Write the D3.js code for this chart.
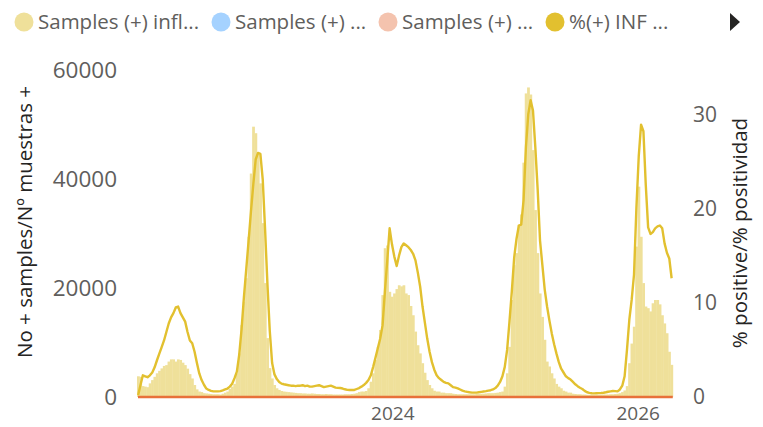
<!DOCTYPE html>
<html><head><meta charset="utf-8">
<script src="https://cdn.jsdelivr.net/npm/d3@7"></script>
<style>
body{margin:0;background:#fff;}
svg{display:block;font-family:"Segoe UI","Open Sans","Noto Sans",sans-serif;}
</style>
</head><body>
<svg id="chart" width="763" height="427"></svg>
<script>
// ---- categories ----
const firstWeek = "2021-12-05";
const weekCount = 228;
const xTickDates = ["2024-01-01", "2026-01-01"];
const leftTicks = [0, 20000, 40000, 60000];
const rightTicks = [0, 10, 20, 30];
const legendLabels = ["Samples (+) infl...", "Samples (+) ...", "Samples (+) ...", "%(+) INF ..."];
const legendColors = ["#EFE09A", "#A5D2FF", "#F4C3AE", "#E2C02F"];
const leftTitle = "No + samples/Nº muestras +";
const rightTitle = "% positive/% positividad";

// ---- series: positive influenza samples per week ----
const samplesInfluenza = [
 3800,3700,2000,1900,1800,2500,3100,3700,4350,4800,
 5250,5700,5850,6500,6900,6900,6500,6900,6800,6300,
 5850,5200,4200,3400,2200,1400,1000,900,700,650,
 600,550,500,500,500,450,600,800,1000,1500,
 1900,2400,4350,8000,13200,17500,21800,29400,41000,49600,
 48400,44700,39200,31900,20900,10800,5300,3400,2200,1600,
 1300,1100,1000,950,900,850,800,750,700,700,
 650,650,600,600,650,600,550,550,500,500,
 550,500,500,450,450,450,450,450,500,500,
 500,550,600,700,900,1000,1000,1100,1600,2800,
 4350,6800,9200,12300,18700,27300,27800,19300,18400,19000,
 19800,20500,20300,20500,19000,18700,16700,15000,12000,9500,
 8000,6200,4450,3100,2200,1600,1150,1000,1000,800,
 800,700,700,700,600,550,500,500,500,500,
 500,500,500,500,550,550,600,600,650,700,
 700,700,750,800,900,1000,1900,4350,9200,17800,
 24200,26400,31600,33500,43000,55700,56800,55500,45300,34300,
 26400,19000,14700,10500,6500,5600,4350,3400,2400,1900,
 1600,1150,1000,800,800,600,550,500,500,450,
 450,400,400,400,400,400,400,400,450,450,
 450,500,500,550,600,700,900,1200,2000,6200,
 9800,12900,27600,38600,29400,20900,16600,16300,15700,17200,
 17800,17800,17000,15000,13500,11700,8300,5900
];

// ---- series: % positive influenza ----
const pctPositive = [
 0.2,1.3,2.3,2.2,2.1,2.3,2.6,3.15,3.9,4.6,
 5.3,6.0,6.9,7.8,8.45,8.9,9.5,9.6,8.9,8.45,
 8.0,6.9,6.0,5.7,4.8,3.6,2.5,1.8,1.3,0.9,
 0.75,0.65,0.6,0.6,0.6,0.62,0.7,0.8,0.9,1.1,
 1.4,2.0,2.7,4.5,7.2,10.6,13.6,16.6,19.7,22.6,
 25.2,25.9,25.8,23.1,17.8,12.0,7.0,3.6,2.4,1.9,
 1.6,1.42,1.35,1.3,1.25,1.2,1.2,1.15,1.2,1.2,
 1.25,1.15,1.2,1.1,1.1,1.15,1.2,1.25,1.15,1.05,
 1.1,1.15,1.2,1.1,1.0,0.97,0.95,0.9,0.82,0.76,
 0.74,0.74,0.75,0.85,0.95,1.1,1.27,1.5,1.8,2.3,
 3.2,4.2,5.2,6.2,7.6,11.2,14.5,17.9,16.2,14.9,
 13.9,15.0,15.9,16.3,16.1,15.9,15.6,15.2,14.5,13.2,
 11.7,9.6,7.9,6.2,4.8,3.7,2.9,2.3,2.0,1.8,
 1.6,1.5,1.45,1.25,1.05,1.0,0.92,0.8,0.68,0.6,
 0.55,0.5,0.46,0.46,0.46,0.5,0.54,0.58,0.62,0.68,
 0.72,0.8,0.95,1.2,1.6,2.2,3.2,5.0,8.0,11.2,
 14.8,16.8,18.2,18.3,20.9,26.5,30.0,31.5,30.4,26.5,
 22.0,16.6,14.0,11.4,9.6,8.1,6.75,5.6,4.6,3.7,
 3.0,2.6,2.2,2.0,1.85,1.6,1.35,1.15,0.98,0.85,
 0.65,0.5,0.44,0.4,0.39,0.4,0.41,0.42,0.45,0.5,
 0.56,0.6,0.64,0.62,0.6,0.8,1.2,2.2,5.0,8.2,
 10.3,13.0,20.0,25.5,28.9,28.2,22.5,18.0,17.3,17.5,
 17.9,18.1,18.2,17.9,16.3,15.3,14.7,12.6
];

// ---- build ----
const weeks = d3.range(weekCount).map(k => d3.utcDay.offset(new Date(firstWeek), 7 * k));
const half = 3.5 * 24 * 3600 * 1000;
const rows = weeks.map((d, i) => ({date: d, samples: samplesInfluenza[i], pct: pctPositive[i]}));

const svg = d3.select("#chart");
const plot = {left: 137, right: 672.8, top: 70, bottom: 397};

const x = d3.scaleUtc()
  .domain([new Date(+weeks[0] - half), new Date(+weeks[weekCount - 1] + half)])
  .range([plot.left, plot.right]);
const yL = d3.scaleLinear().domain([0, 60000]).range([plot.bottom, plot.top]);
const yR = d3.scaleLinear().domain([0, 34.7]).range([plot.bottom, plot.top]);

// bars
svg.append("g").selectAll("rect").data(rows).join("rect")
  .attr("x", d => x(new Date(+d.date - half)))
  .attr("width", d => x(new Date(+d.date + half)) - x(new Date(+d.date - half)) + 0.4)
  .attr("y", d => yL(d.samples))
  .attr("height", d => yL(0) - yL(d.samples))
  .attr("fill", legendColors[0]);

// baseline (zero-valued series)
svg.append("line")
  .attr("x1", plot.left + 1).attr("x2", plot.right)
  .attr("y1", yL(0)).attr("y2", yL(0))
  .attr("stroke", "#E8713A").attr("stroke-width", 2.5);

// % positive line
svg.append("path").datum(rows)
  .attr("fill", "none")
  .attr("stroke", legendColors[3])
  .attr("stroke-width", 2.4)
  .attr("stroke-linejoin", "round")
  .attr("d", d3.line().x(d => x(d.date)).y(d => yR(d.pct)));

// axes
const tickColor = "#605E5C";
const gL = svg.append("g").attr("transform", "translate(121,0)")
  .call(d3.axisLeft(yL).tickValues(leftTicks).tickSize(0).tickPadding(4).tickFormat(d3.format("d")));
const gR = svg.append("g").attr("transform", "translate(690,0)")
  .call(d3.axisRight(yR).tickValues(rightTicks).tickSize(0).tickPadding(3));
const gX = svg.append("g").attr("transform", `translate(0,${plot.bottom})`)
  .call(d3.axisBottom(x).tickValues(xTickDates.map(s => new Date(s))).tickSize(0).tickPadding(10).tickFormat(d3.utcFormat("%Y")));
[gL, gR, gX].forEach(g => {
  g.select(".domain").remove();
  g.selectAll("text").attr("fill", tickColor).style("font-family", '"Segoe UI","Open Sans",sans-serif');
});
gL.selectAll("text").style("font-size", "22.5px");
gR.selectAll("text").style("font-size", "21px");
gX.selectAll("text").style("font-size", "19px");

// axis titles
svg.append("text")
  .attr("transform", "translate(32,222) rotate(-90)")
  .attr("text-anchor", "middle")
  .attr("fill", "#252423").style("font-size", "20.5px")
  .text(leftTitle);
svg.append("text")
  .attr("transform", "translate(747,233) rotate(-90)")
  .attr("text-anchor", "middle")
  .attr("fill", "#252423").style("font-size", "20.5px")
  .text(rightTitle);

// legend
const legendX = [24, 221, 388, 555];
legendLabels.forEach((lab, i) => {
  svg.append("circle").attr("cx", legendX[i]).attr("cy", 22).attr("r", 9.5).attr("fill", legendColors[i]);
  svg.append("text").attr("x", legendX[i] + 14).attr("y", 29)
    .attr("fill", tickColor).style("font-size", "20.5px").text(lab);
});
svg.append("path").attr("d", "M730,13 L740,22 L730,31 Z").attr("fill", "#252423");
</script>
</body></html>
